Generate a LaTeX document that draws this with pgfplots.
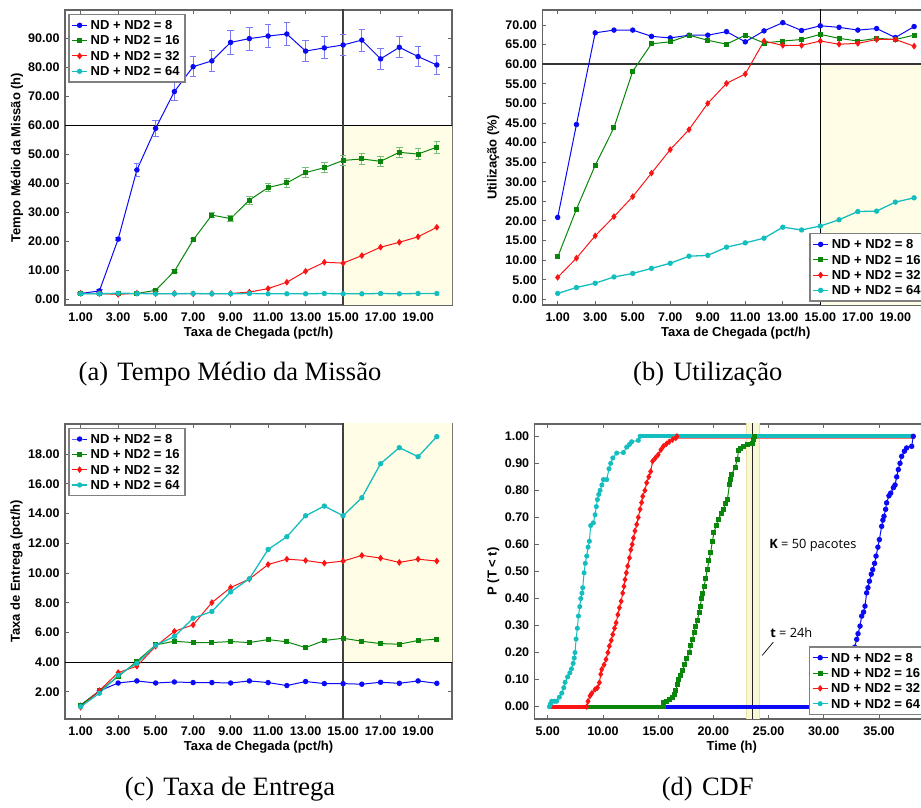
\documentclass[border=0pt]{standalone}
\usepackage{fontspec}
\setmainfont{Liberation Sans}
\newfontfamily\capfont{Liberation Serif}
\newfontfamily\annfont{Open Sans}
\usepackage{pgfplots}
\pgfplotsset{compat=1.18}
\definecolor{cB}{RGB}{10,10,245}
\definecolor{cG}{RGB}{10,135,10}
\definecolor{cR}{RGB}{250,20,20}
\definecolor{cC}{RGB}{20,190,190}
\definecolor{shade}{RGB}{255,253,230}
\definecolor{band}{RGB}{250,247,212}
\definecolor{bandedge}{RGB}{232,226,170}
\definecolor{frame}{RGB}{100,100,100}
\pgfplotsset{
  base/.style={
    scale only axis,
    axis line style={frame, line width=1.2pt},
    tick style={frame, line width=0.9pt},
    major tick length=4pt,
    tick align=inside,
    /pgf/number format/assume math mode=true,
    /pgf/number format/fixed,
    /pgf/number format/fixed zerofill,
    /pgf/number format/precision=2,
    ticklabel style={font=\bfseries\fontsize{12.5}{14}\selectfont},
    xticklabel style={yshift=-4pt},
    yticklabel style={xshift=-2pt},
    label style={font=\bfseries\fontsize{13}{15}\selectfont},
    legend cell align=left,
    legend image code/.code={\draw[mark repeat=2,mark phase=2] plot coordinates {(0pt,0pt)(7.5pt,0pt)(15pt,0pt)};},
    legend style={draw=gray, line width=1.3pt, fill=white, font=\bfseries\fontsize{13}{15}\selectfont,
      inner xsep=2.5pt, inner ysep=3pt, row sep=0pt,
      nodes={inner xsep=3pt, inner ysep=1pt, text height=11pt, text depth=2.33pt}},
  },
  sB/.style={cB, line width=1pt, mark=*, mark size=2.2pt, mark options={solid}},
  sG/.style={cG, line width=1pt, mark=square*, mark size=2pt, mark options={solid}},
  sR/.style={cR, line width=1pt, mark=diamond*, mark size=2.6pt, mark options={solid}},
  sC/.style={cC, line width=1.3pt, mark=*, mark size=2pt, mark options={solid}},
}
\begin{document}
\begin{tikzpicture}
\useasboundingbox (0,0) rectangle (921pt,808pt);
% ---------------- (a)
\begin{axis}[base, at={(65pt,503pt)}, anchor=south west, width=387pt, height=295pt,
  xmin=0.165, xmax=20.81, ymin=-2.07, ymax=99.9,
  xtick={1,3,...,19}, ytick={0,10,...,90},
  xlabel={Taxa de Chegada (pct/h)}, ylabel={Tempo Médio da Missão (h)},
  xlabel style={at={(axis description cs:0.5,-0.095)}, anchor=center},
  ylabel style={at={(axis description cs:-0.124,0.5)}, anchor=center},
  legend style={at={(axis description cs:0,1)}, anchor=north west, xshift=3.3pt, yshift=-4pt}]
\addplot[fill=shade, draw=none, forget plot] coordinates {(15,-5)(25,-5)(25,60)(15,60)} -- cycle;
\addplot[black, line width=1.2pt, forget plot] coordinates {(-1,60)(25,60)};
\addplot[black!75, line width=1.4pt, forget plot] coordinates {(15,-5)(15,105)};
\addplot[sB, error bars/.cd, y dir=both, y explicit, error bar style={cB!55, line width=0.8pt},
  error mark options={cB!55, line width=0.8pt, mark size=3.3pt, rotate=90}] coordinates {
 (1,1.9)+-(0,0.3) (2,2.8)+-(0,0.4) (3,20.7)+-(0,0.6) (4,44.6)+-(0,2.2) (5,59.0)+-(0,2.8)
 (6,71.7)+-(0,3.2) (7,80.3)+-(0,3.5) (8,82.3)+-(0,3.6) (9,88.7)+-(0,4.2) (10,90.0)+-(0,4.0)
 (11,90.9)+-(0,3.9) (12,91.6)+-(0,4.0) (13,85.7)+-(0,3.6) (14,86.8)+-(0,3.8) (15,87.8)+-(0,3.7)
 (16,89.5)+-(0,3.8) (17,83.0)+-(0,3.6) (18,87.0)+-(0,3.6) (19,83.8)+-(0,3.5) (20,80.9)+-(0,3.3)};
\addlegendentry{ND + ND2 = 8}
\addplot[sG, error bars/.cd, y dir=both, y explicit, error bar style={cG!55, line width=0.8pt},
  error mark options={cG!55, line width=0.8pt, mark size=3.3pt, rotate=90}] coordinates {
 (1,1.9)+-(0,0.2) (2,1.9)+-(0,0.2) (3,1.9)+-(0,0.2) (4,1.9)+-(0,0.2) (5,3.0)+-(0,0.4)
 (6,9.6)+-(0,0.5) (7,20.4)+-(0,0.6) (8,29.0)+-(0,0.9) (9,27.8)+-(0,1.0) (10,34.2)+-(0,1.4)
 (11,38.5)+-(0,1.4) (12,40.1)+-(0,1.5) (13,43.7)+-(0,1.7) (14,45.4)+-(0,1.8) (15,47.9)+-(0,1.8)
 (16,48.4)+-(0,1.8) (17,47.6)+-(0,1.7) (18,50.7)+-(0,1.8) (19,50.1)+-(0,1.8) (20,52.5)+-(0,2.0)};
\addlegendentry{ND + ND2 = 16}
\addplot[sR] coordinates {
 (1,2.0) (2,1.9) (3,1.6) (4,2.0) (5,1.9) (6,1.9) (7,1.8) (8,1.9) (9,1.9) (10,2.4)
 (11,3.6) (12,5.8) (13,9.6) (14,12.7) (15,12.4) (16,15.0) (17,17.9) (18,19.6) (19,21.5) (20,24.8)};
\addlegendentry{ND + ND2 = 32}
\addplot[sC] coordinates {
 (1,1.8) (2,1.8) (3,2.0) (4,1.9) (5,1.8) (6,1.8) (7,1.9) (8,1.8) (9,1.8) (10,1.9)
 (11,1.8) (12,1.8) (13,1.8) (14,1.9) (15,1.8) (16,1.8) (17,1.9) (18,1.8) (19,1.9) (20,1.9)};
\addlegendentry{ND + ND2 = 64}
\end{axis}
% ---------------- (b)
\begin{axis}[base, at={(542.3pt,503pt)}, anchor=south west, width=387pt, height=295pt,
  xmin=0.18, xmax=20.81, ymin=-1.45, ymax=73.83,
  xtick={1,3,...,19}, ytick={0,5,...,70},
  xlabel={Taxa de Chegada (pct/h)}, ylabel={Utilização (\%)},
  xlabel style={at={(axis description cs:0.5,-0.095)}, anchor=center},
  ylabel style={at={(axis description cs:-0.127,0.5)}, anchor=center},
  legend style={at={(axis description cs:1,0)}, anchor=south east, xshift=-2.5pt, yshift=3.3pt}]
\addplot[fill=shade, draw=none, forget plot] coordinates {(15,-5)(25,-5)(25,60)(15,60)} -- cycle;
\addplot[black!80, line width=1.4pt, forget plot] coordinates {(-1,60)(25,60)};
\addplot[black, line width=1.3pt, forget plot] coordinates {(15,-5)(15,80)};
\addplot[sB] coordinates {
 (1,20.9) (2,44.6) (3,68.0) (4,68.7) (5,68.7) (6,67.1) (7,66.7) (8,67.4) (9,67.4) (10,68.3)
 (11,65.7) (12,68.5) (13,70.6) (14,68.6) (15,69.8) (16,69.4) (17,68.7) (18,69.1) (19,66.8) (20,69.6)};
\addlegendentry{ND + ND2 = 8}
\addplot[sG] coordinates {
 (1,10.8) (2,23.0) (3,34.2) (4,43.8) (5,58.2) (6,65.2) (7,65.7) (8,67.4) (9,66.1) (10,65.1)
 (11,67.4) (12,65.4) (13,65.9) (14,66.3) (15,67.6) (16,66.6) (17,65.9) (18,66.6) (19,66.3) (20,67.4)};
\addlegendentry{ND + ND2 = 16}
\addplot[sR] coordinates {
 (1,5.6) (2,10.5) (3,16.2) (4,21.1) (5,26.2) (6,32.2) (7,38.2) (8,43.3) (9,50.0) (10,55.1)
 (11,57.5) (12,65.9) (13,64.8) (14,64.8) (15,65.9) (16,65.1) (17,65.3) (18,66.3) (19,66.3) (20,64.6)};
\addlegendentry{ND + ND2 = 32}
\addplot[sC] coordinates {
 (1,1.5) (2,3.0) (3,4.1) (4,5.7) (5,6.6) (6,7.9) (7,9.2) (8,11.0) (9,11.2) (10,13.3)
 (11,14.4) (12,15.6) (13,18.4) (14,17.7) (15,18.7) (16,20.3) (17,22.4) (18,22.5) (19,24.8) (20,25.9)};
\addlegendentry{ND + ND2 = 64}
\end{axis}
% ---------------- (c)
\begin{axis}[base, at={(65pt,89pt)}, anchor=south west, width=387pt, height=295pt,
  xmin=0.165, xmax=20.81, ymin=0.18, ymax=20.02,
  xtick={1,3,...,19}, ytick={2,4,...,18},
  xlabel={Taxa de Chegada (pct/h)}, ylabel={Taxa de Entrega (pct/h)},
  xlabel style={at={(axis description cs:0.5,-0.097)}, anchor=center},
  ylabel style={at={(axis description cs:-0.125,0.5)}, anchor=center},
  legend style={at={(axis description cs:0,1)}, anchor=north west, xshift=3.3pt, yshift=-3.7pt}]
\addplot[fill=shade, draw=none, forget plot] coordinates {(15,4)(25,4)(25,25)(15,25)} -- cycle;
\addplot[black, line width=1.2pt, forget plot] coordinates {(-1,4)(25,4)};
\addplot[black!75, line width=1.4pt, forget plot] coordinates {(15,-5)(15,25)};
\addplot[sB] coordinates {
 (1,1.10) (2,2.07) (3,2.60) (4,2.74) (5,2.60) (6,2.67) (7,2.63) (8,2.63) (9,2.60) (10,2.74)
 (11,2.63) (12,2.43) (13,2.70) (14,2.56) (15,2.56) (16,2.52) (17,2.65) (18,2.58) (19,2.74) (20,2.58)};
\addlegendentry{ND + ND2 = 8}
\addplot[sG] coordinates {
 (1,1.12) (2,2.07) (3,3.03) (4,4.06) (5,5.16) (6,5.41) (7,5.32) (8,5.32) (9,5.39) (10,5.32)
 (11,5.52) (12,5.37) (13,4.98) (14,5.46) (15,5.61) (16,5.41) (17,5.25) (18,5.21) (19,5.46) (20,5.55)};
\addlegendentry{ND + ND2 = 16}
\addplot[sR] coordinates {
 (1,0.97) (2,2.09) (3,3.30) (4,3.73) (5,5.07) (6,6.08) (7,6.51) (8,8.01) (9,9.02) (10,9.59)
 (11,10.57) (12,10.93) (13,10.84) (14,10.66) (15,10.80) (16,11.18) (17,11.00) (18,10.71) (19,10.93) (20,10.80)};
\addlegendentry{ND + ND2 = 32}
\addplot[sC] coordinates {
 (1,1.01) (2,1.91) (3,3.12) (4,3.93) (5,5.14) (6,5.73) (7,6.96) (8,7.41) (9,8.73) (10,9.61)
 (11,11.58) (12,12.44) (13,13.85) (14,14.50) (15,13.85) (16,15.06) (17,17.35) (18,18.43) (19,17.82) (20,19.17)};
\addlegendentry{ND + ND2 = 64}
\end{axis}
% ---------------- (d)
\begin{axis}[base, at={(534.7pt,89pt)}, anchor=south west, width=394pt, height=295pt,
  xmin=3.82, xmax=39.5, ymin=-0.0456, ymax=1.0456,
  xtick={5,10,...,35}, ytick={0,0.1,...,1.0},
  xlabel={Time (h)}, ylabel={P (T < t)},
  xlabel style={at={(axis description cs:0.5,-0.097)}, anchor=center},
  ylabel style={at={(axis description cs:-0.105,0.5)}, anchor=center},
  legend style={at={(axis description cs:1,0)}, anchor=south east, xshift=-2.5pt, yshift=4pt}]
\addplot[fill=band, draw=bandedge, line width=0.6pt, forget plot] coordinates {(23.0,-1)(24.2,-1)(24.2,2)(23.0,2)} -- cycle;
\addplot[black!85, line width=1.3pt, forget plot] coordinates {(23.57,-1)(23.57,2)};
% blue
\addplot[cB, line width=4pt, forget plot] coordinates {(5.15,0)(31.3,0)};
\addplot[cB, line width=4pt, forget plot] coordinates {(38.1,1)(38.25,1)};
\addplot[sB, mark size=2.2pt] coordinates {
 (31.3,0) (31.8,0.04) (32.2,0.10) (32.5,0.15) (32.68,0.187) (32.8,0.22) (32.98,0.249) (33.1,0.27)
 (33.28,0.298) (33.43,0.335) (33.6,0.35) (33.73,0.372) (33.88,0.421) (34.0,0.44) (34.13,0.464)
 (34.3,0.49) (34.43,0.507) (34.6,0.53) (34.73,0.557) (34.9,0.59) (35.03,0.618) (35.24,0.667)
 (35.35,0.69) (35.45,0.704) (35.6,0.73) (35.69,0.754) (35.9,0.78) (36.06,0.79) (36.3,0.81)
 (36.45,0.82) (36.6,0.85) (36.75,0.877) (36.9,0.90) (37.05,0.926) (37.3,0.945) (37.5,0.957)
 (37.96,0.963) (38.1,1.0)};
\addlegendentry{ND + ND2 = 8}
% green
\addplot[cG, line width=4pt, forget plot] coordinates {(5.15,0)(15.47,0)};
\addplot[cG, line width=4pt, forget plot] coordinates {(23.7,1)(38.25,1)};
\addplot[sG, mark size=2pt] coordinates {
 (15.47,0) (15.5,0.017) (15.8,0.02) (16.07,0.027) (16.3,0.035) (16.5,0.046) (16.6,0.06) (16.73,0.083)
 (16.85,0.10) (16.98,0.116) (17.2,0.135) (17.43,0.156) (17.6,0.18) (17.8,0.20) (17.95,0.225)
 (18.1,0.249) (18.25,0.275) (18.4,0.298) (18.55,0.32) (18.7,0.347) (18.8,0.37) (18.93,0.40)
 (19.05,0.42) (19.17,0.446) (19.3,0.475) (19.45,0.507) (19.6,0.54) (19.75,0.569) (19.9,0.61)
 (20.05,0.643) (20.25,0.67) (20.44,0.692) (20.7,0.715) (20.9,0.73) (21.1,0.75) (21.27,0.766)
 (21.45,0.82) (21.55,0.84) (21.66,0.86) (21.97,0.885) (22.18,0.916) (22.27,0.946) (22.5,0.955)
 (22.72,0.963) (23.1,0.97) (23.56,0.975) (23.6,0.988) (23.7,1.0)};
\addlegendentry{ND + ND2 = 16}
% red
\addplot[cR, line width=4pt, forget plot] coordinates {(5.15,0)(8.53,0)};
\addplot[cR!60, line width=4.6pt, forget plot] coordinates {(16.7,1)(38.25,1)};
\addplot[sR, mark size=2.5pt] coordinates {
 (8.53,0) (8.65,0.02) (8.83,0.04) (9.0,0.05) (9.29,0.064) (9.5,0.07) (9.68,0.089) (9.8,0.12)
 (9.89,0.138) (10.1,0.155) (10.28,0.175) (10.45,0.20) (10.58,0.224) (10.75,0.245) (10.89,0.267)
 (11.05,0.29) (11.19,0.31) (11.35,0.34) (11.49,0.366) (11.65,0.39) (11.79,0.42) (11.9,0.445)
 (12.0,0.47) (12.12,0.495) (12.24,0.52) (12.4,0.55) (12.52,0.58) (12.65,0.60) (12.76,0.624)
 (12.9,0.65) (13.06,0.674) (13.2,0.70) (13.36,0.73) (13.5,0.755) (13.6,0.778) (13.8,0.80)
 (13.96,0.828) (14.15,0.85) (14.32,0.87) (14.5,0.908) (14.75,0.92) (15.0,0.932) (15.25,0.95)
 (15.47,0.963) (15.75,0.972) (16.0,0.98) (16.3,0.988) (16.6,0.994) (16.7,1.0)};
\addlegendentry{ND + ND2 = 32}
% cyan
\addplot[cC, line width=4pt, forget plot] coordinates {(13.36,1)(38.25,1)};
\addplot[sC, line width=1pt, mark size=2pt] coordinates {
 (5.15,0) (5.25,0.01) (5.36,0.02) (5.6,0.02) (5.8,0.02) (6.05,0.035) (6.27,0.05) (6.45,0.07)
 (6.57,0.09) (6.8,0.11) (7.0,0.125) (7.15,0.14) (7.3,0.16) (7.4,0.18) (7.47,0.20) (7.57,0.25)
 (7.68,0.29) (7.78,0.335) (7.9,0.37) (7.99,0.40) (8.1,0.42) (8.17,0.44) (8.29,0.495) (8.4,0.53)
 (8.53,0.557) (8.65,0.59) (8.77,0.612) (8.89,0.67) (9.13,0.68) (9.29,0.71) (9.4,0.74)
 (9.5,0.766) (9.62,0.785) (9.74,0.80) (9.9,0.82) (10.04,0.84) (10.34,0.84) (10.55,0.88)
 (10.7,0.90) (10.89,0.92) (11.25,0.938) (11.85,0.94) (12.15,0.96) (12.4,0.97) (12.6,0.98)
 (13.2,0.985) (13.36,1.0)};
\addlegendentry{ND + ND2 = 64}
\addplot[black, line width=0.7pt, forget plot] coordinates {(24.43,0.19)(25.43,0.239)};
\node[anchor=west, inner sep=0pt, font=\annfont\fontsize{12.8}{14}\selectfont] at (axis cs:25.05,0.597) {\textbf{K} = 50 pacotes};
\node[anchor=west, inner sep=0pt, font=\annfont\fontsize{12.8}{14}\selectfont] at (axis cs:25.14,0.275) {\textbf{t} = 24h};
\end{axis}
% captions
\node[font=\capfont\fontsize{26.5}{30}\selectfont, anchor=base] at (230pt,427.2pt) {(a)\hspace{0.35em}Tempo Médio da Missão};
\node[font=\capfont\fontsize{26.5}{30}\selectfont, anchor=base] at (707.7pt,427.2pt) {(b)\hspace{0.35em}Utilização};
\node[font=\capfont\fontsize{26.5}{30}\selectfont, anchor=base] at (230pt,12.7pt) {(c)\hspace{0.35em}Taxa de Entrega};
\node[font=\capfont\fontsize{26.5}{30}\selectfont, anchor=base] at (707.7pt,12.7pt) {(d)\hspace{0.35em}CDF};
\end{tikzpicture}
\end{document}
